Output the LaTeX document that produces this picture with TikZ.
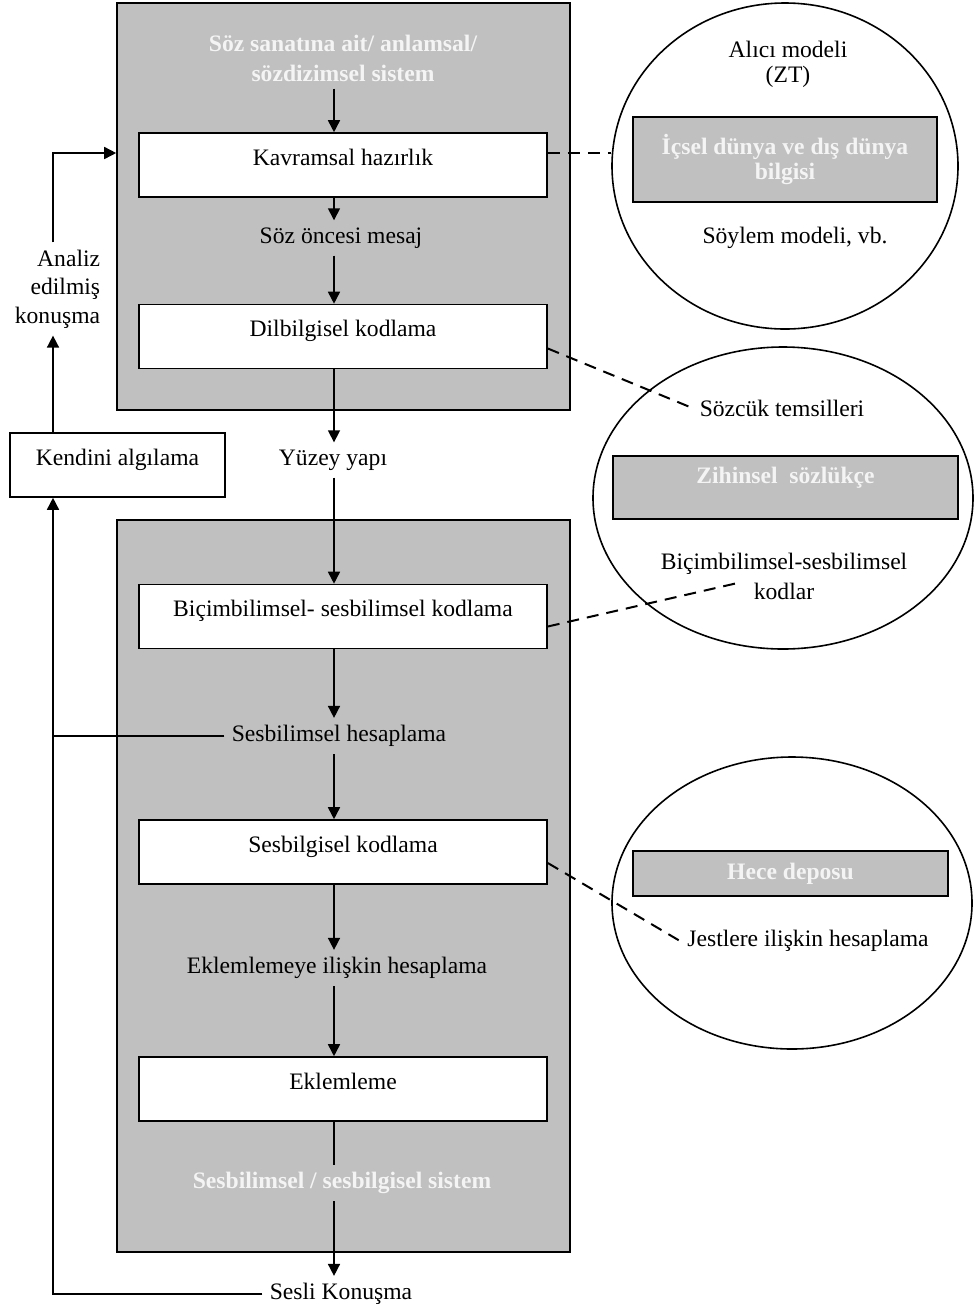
\documentclass[tikz,border=0pt]{standalone}
\usepackage{fontspec}
\setmainfont{Liberation Serif}
\usetikzlibrary{arrows.meta,shapes.geometric,calc}
\definecolor{boxgray}{HTML}{C0C0C0}
\definecolor{lighttxt}{HTML}{F4F4F4}
\begin{document}
\begin{tikzpicture}[x=0.5pt,y=-0.5pt,
  font=\fontsize{11.8}{14}\selectfont,
  ln/.style={line width=0.8pt},
  arr/.style={ln,-{Triangle[width=6pt,length=6pt]}},
  dsh/.style={line width=1pt,dash pattern=on 6pt off 4pt},
  panel/.style={draw,ln,fill=boxgray,inner sep=0,minimum width=226.5pt},
  proc/.style={draw,ln,fill=white,inner sep=0,minimum width=204pt,minimum height=32pt,text height=16pt,text depth=16pt},
  lbl/.style={inner sep=3.5pt,align=center},
  light/.style={text=lighttxt,font=\fontsize{11.8}{15}\selectfont\bfseries},
  oval/.style={draw,ln,ellipse,inner sep=0},
  grayrect/.style={draw,ln,fill=boxgray,inner sep=0}
]
\useasboundingbox (0,0) rectangle (977,1313);

% panels
\node[panel,minimum height=203.5pt] (topp) at (343.5,206.5) {};
\node[panel,minimum height=366pt] (botp) at (343.5,886) {};

% central column
\node[lbl,light] (title) at (343,58) {Söz sanatına ait/ anlamsal/\\sözdizimsel sistem};
\node[proc] (kav) at (343,165) {Kavramsal hazırlık};
\node[lbl] (soz) at (341,238) {Söz öncesi mesaj};
\node[proc] (dil) at (343,336.5) {Dilbilgisel kodlama};
\node[lbl] (yuz) at (333,460) {Yüzey yapı};
\node[proc] (bic) at (343,616.5) {Biçimbilimsel- sesbilimsel kodlama};
\node[lbl] (sbh) at (339,736) {Sesbilimsel hesaplama};
\node[proc] (sbk) at (343,852) {Sesbilgisel kodlama};
\node[lbl] (ekh) at (337,968) {Eklemlemeye ilişkin hesaplama};
\node[proc] (ekl) at (343,1089) {Eklemleme};
\node[lbl,light] (sys) at (342,1183) {Sesbilimsel / sesbilgisel sistem};
\node[lbl] (sesli) at (341,1294) {Sesli Konuşma};

% left side
\node[proc,minimum width=107.5pt] (kend) at (117.5,465) {Kendini algılama};
\node[lbl,align=right,font=\fontsize{11.8}{14.25}\selectfont] (analiz) at (57.5,289) {Analiz\\edilmiş\\konuşma};

\coordinate (lx) at (53,0);
\coordinate (ax) at (334,0);
\coordinate (kd) at ($(kav.east)+(0,-12)$);

% ellipses
\node[oval,minimum width=173pt,minimum height=163pt] (ell1) at (785,166) {};
\node[oval,minimum width=190pt,minimum height=151pt] (ell2) at (783,498) {};
\node[oval,minimum width=180pt,minimum height=146pt] (ell3) at (792,903) {};

\node[lbl,font=\fontsize{11.8}{12.5}\selectfont] (alici) at (788,64) {Alıcı modeli\\(ZT)};
\node[grayrect,minimum width=152pt,minimum height=42.5pt,align=center,text=lighttxt,font=\fontsize{11.8}{12.5}\selectfont\bfseries] (icsel) at (785,159.5) {İçsel dünya ve dış dünya\\bilgisi};
\node[lbl] (soylem) at (795,238) {Söylem modeli, vb.};

\node[lbl] (sozcuk) at (782,408) {Sözcük temsilleri};
\node[grayrect,minimum width=172.5pt,minimum height=31.5pt,light,text height=13.75pt,text depth=17.75pt] (zih) at (785.5,487.5) {Zihinsel\ \ sözlükçe};
\node[lbl,font=\fontsize{11.8}{15}\selectfont] (bsk) at (784,576) {Biçimbilimsel-sesbilimsel\\kodlar};
\coordinate (bskin) at ($(bsk.center)+(-42,6)$);

\node[grayrect,minimum width=157.5pt,minimum height=22.5pt,light] (hece) at (790.5,873.5) {Hece deposu};
\node[lbl] (jest) at (808,941) {Jestlere ilişkin hesaplama};

% main flow
\draw[arr] (title.south -| ax) -- (kav.north -| ax);
\draw[arr] (kav.south -| ax) -- (soz.north -| ax);
\draw[arr] (soz.south -| ax) -- (dil.north -| ax);
\draw[arr] (dil.south -| ax) -- (yuz.north -| ax);
\draw[arr] (yuz.south -| ax) -- (bic.north -| ax);
\draw[arr] (bic.south -| ax) -- (sbh.north -| ax);
\draw[arr] (sbh.south -| ax) -- (sbk.north -| ax);
\draw[arr] (sbk.south -| ax) -- (ekh.north -| ax);
\draw[arr] (ekh.south -| ax) -- (ekl.north -| ax);
\draw[ln] (ekl.south -| ax) -- (sys.north -| ax);
\draw[arr] (sys.south -| ax) -- (sesli.north -| ax);

% feedback
\draw[arr] (sesli.west) -- (sesli.west -| lx) -- (kend.south -| lx);
\draw[ln] (sbh.west) -- (sbh.west -| lx);
\draw[arr] (kend.north -| lx) -- (analiz.south -| lx);
\draw[arr] (analiz.north -| lx) |- (topp.west |- kd);

% dashed links
\draw[dsh] (kd) -- (ell1.west |- kd);
\draw[dsh] ($(dil.east)+(0,12)$) -- (sozcuk.west);
\draw[dsh] ($(bic.east)+(0,10)$) -- (bskin);
\draw[dsh] ($(sbk.east)+(0,11)$) -- (jest.west);
\end{tikzpicture}
\end{document}
